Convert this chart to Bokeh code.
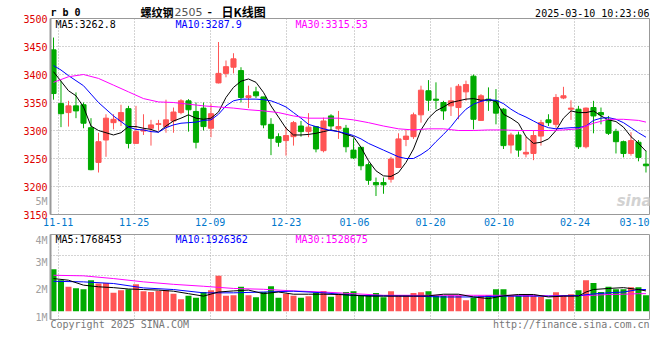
from bokeh.plotting import figure
from bokeh.layouts import column
from bokeh.models import FixedTicker, Range1d, Label, ColumnDataSource
from bokeh.embed import file_html
from bokeh.resources import INLINE

# ---------------- data ----------------
dates = ["11-08",
         "11-11", "11-12", "11-13", "11-14", "11-15", "11-18", "11-19", "11-20", "11-21", "11-22",
         "11-25", "11-26", "11-27", "11-28", "11-29",
         "12-02", "12-03", "12-04", "12-05", "12-06", "12-09", "12-10", "12-11", "12-12", "12-13",
         "12-16", "12-17", "12-18", "12-19", "12-20", "12-23", "12-24", "12-25", "12-26", "12-27",
         "12-30", "12-31",
         "01-02", "01-03", "01-06", "01-07", "01-08", "01-09", "01-10", "01-13", "01-14", "01-15",
         "01-16", "01-17", "01-20", "01-21", "01-22", "01-23", "01-24", "01-27",
         "02-05", "02-06", "02-07", "02-10", "02-11", "02-12", "02-13", "02-14", "02-17", "02-18",
         "02-19", "02-20", "02-21", "02-24", "02-25", "02-26", "02-27", "02-28",
         "03-03", "03-04", "03-05", "03-06", "03-07", "03-10"]

open_ = [3444, 3348, 3332, 3344, 3346, 3305, 3243, 3283, 3314, 3317,
         3339, 3277, 3299, 3304, 3311, 3307, 3317, 3332, 3353, 3334,
         3340, 3304, 3385, 3402, 3413, 3407, 3359, 3369, 3360, 3311,
         3289, 3282, 3289, 3308, 3298, 3307, 3264, 3326, 3303, 3304,
         3265, 3270, 3239, 3207, 3207, 3213, 3234, 3284, 3289, 3328,
         3371, 3356, 3350, 3344, 3341, 3369, 3397, 3318, 3356, 3353,
         3338, 3274, 3292, 3258, 3259, 3290, 3319, 3311, 3358, 3338,
         3338, 3271, 3341, 3332, 3320, 3298, 3280, 3259, 3279, 3240]
high = [3466, 3389, 3353, 3368, 3350, 3322, 3296, 3329, 3329, 3346,
        3344, 3344, 3329, 3319, 3319, 3355, 3341, 3356, 3356, 3350,
        3350, 3348, 3458, 3425, 3438, 3413, 3380, 3378, 3360, 3322,
        3295, 3306, 3317, 3317, 3331, 3308, 3323, 3329, 3335, 3310,
        3286, 3270, 3243, 3216, 3216, 3253, 3295, 3301, 3332, 3380,
        3390, 3386, 3353, 3377, 3383, 3389, 3400, 3365, 3377, 3374,
        3340, 3296, 3298, 3289, 3300, 3319, 3329, 3365, 3378, 3354,
        3344, 3341, 3353, 3341, 3326, 3303, 3282, 3297, 3283, 3264]
low = [3355, 3306, 3307, 3322, 3304, 3229, 3225, 3253, 3302, 3308,
       3268, 3277, 3292, 3273, 3300, 3296, 3296, 3329, 3298, 3268,
       3300, 3288, 3384, 3395, 3402, 3350, 3340, 3358, 3304, 3256,
       3271, 3255, 3273, 3289, 3288, 3261, 3261, 3301, 3285, 3261,
       3249, 3229, 3203, 3183, 3187, 3207, 3233, 3272, 3285, 3314,
       3335, 3338, 3319, 3326, 3320, 3353, 3302, 3317, 3335, 3311,
       3267, 3259, 3253, 3252, 3247, 3273, 3308, 3305, 3356, 3319,
       3267, 3268, 3295, 3311, 3292, 3259, 3252, 3255, 3245, 3225]
close = [3366, 3330, 3344, 3335, 3313, 3230, 3280, 3322, 3320, 3332,
         3277, 3298, 3301, 3310, 3312, 3319, 3333, 3353, 3337, 3279,
         3307, 3330, 3402, 3414, 3428, 3359, 3362, 3362, 3310, 3286,
         3279, 3291, 3314, 3298, 3306, 3267, 3317, 3308, 3307, 3271,
         3251, 3237, 3211, 3203, 3203, 3249, 3285, 3290, 3328, 3372,
         3354, 3354, 3335, 3353, 3379, 3382, 3320, 3362, 3353, 3331,
         3273, 3292, 3265, 3261, 3291, 3314, 3314, 3359, 3362, 3340,
         3271, 3340, 3326, 3328, 3295, 3280, 3259, 3282, 3252, 3237]

ma5 = [3405, 3388, 3371, 3362, 3342, 3308, 3300, 3296, 3292, 3296,
       3307, 3307, 3304, 3302, 3297, 3308, 3317, 3322, 3328, 3322,
       3320, 3322, 3333, 3359, 3377, 3388, 3392, 3386, 3368, 3344,
       3324, 3304, 3292, 3292, 3293, 3295, 3298, 3301, 3298, 3293,
       3289, 3270, 3246, 3228, 3219, 3218, 3225, 3243, 3267, 3301,
       3322, 3335, 3342, 3350, 3353, 3356, 3357, 3354, 3355, 3352,
       3329, 3322, 3313, 3289, 3277, 3279, 3285, 3300, 3322, 3335,
       3332, 3332, 3335, 3326, 3319, 3316, 3306, 3289, 3277, 3263]
ma10 = [3416, 3408, 3398, 3389, 3380, 3365, 3350, 3338, 3326, 3316,
        3306, 3302, 3301, 3298, 3297, 3305, 3310, 3313, 3314, 3315,
        3318, 3319, 3329, 3344, 3353, 3356, 3356, 3356, 3355, 3353,
        3348, 3342, 3332, 3322, 3311, 3307, 3303, 3300, 3298, 3295,
        3291, 3285, 3277, 3271, 3265, 3259, 3253, 3250, 3250, 3257,
        3266, 3280, 3293, 3307, 3324, 3338, 3347, 3352, 3355, 3354,
        3348, 3338, 3330, 3324, 3317, 3310, 3305, 3303, 3304, 3305,
        3305, 3308, 3318, 3322, 3323, 3320, 3314, 3305, 3296, 3288]
ma30_idx = list(range(0, 80, 2)) + [79]
ma30 = [3386, 3396, 3400, 3393, 3381, 3369, 3357, 3351, 3350, 3347,
        3344, 3342, 3340, 3337, 3335, 3332, 3326, 3322, 3322, 3322,
        3319, 3314, 3308, 3303, 3301, 3303, 3303, 3300, 3300, 3301,
        3301, 3300, 3300, 3300, 3301, 3303, 3313, 3320, 3320, 3318, 3315]

# volume, in the units of the panel's own axis (M)
vol = [2.74, 2.34, 2.10, 2.05, 2.01, 2.34, 2.22, 2.24, 1.88, 1.97,
       2.01, 2.19, 1.94, 1.91, 1.95, 1.97, 1.85, 1.65, 1.77, 1.70,
       1.91, 1.97, 2.50, 1.77, 1.79, 2.10, 1.79, 1.72, 1.91, 2.12,
       1.70, 1.85, 1.77, 1.70, 1.76, 1.88, 1.95, 1.74, 1.85, 1.91,
       1.94, 1.79, 1.79, 1.87, 1.72, 1.94, 1.79, 1.79, 1.87, 1.90,
       1.94, 1.77, 1.77, 1.79, 1.77, 1.61, 1.71, 1.77, 1.79, 2.01,
       2.01, 1.77, 1.77, 1.83, 1.77, 1.74, 1.65, 1.90, 1.79, 1.83,
       1.97, 2.34, 2.24, 1.91, 2.10, 2.01, 2.01, 2.08, 2.08, 1.79]
vol_base = 1.21
vma5_idx = [0, 2, 4, 6, 8, 10, 12, 14, 16, 18, 20, 22, 24, 26, 28, 30, 32, 34, 36, 38, 40,
            42, 44, 46, 48, 50, 52, 54, 56, 58, 60, 62, 64, 66, 68, 70, 71, 72, 74, 76, 78, 79]
vma5 = [2.40, 2.34, 2.16, 2.10, 2.07, 2.02, 2.00, 1.98, 1.94, 1.85, 1.76, 1.91, 1.95, 1.98,
        1.85, 1.91, 1.83, 1.83, 1.83, 1.82, 1.79, 1.76, 1.76, 1.76, 1.76, 1.77, 1.83, 1.83,
        1.73, 1.67, 1.77, 1.82, 1.82, 1.73, 1.76, 1.76, 1.91, 2.00, 2.04, 2.07, 2.00, 1.95]
vma_idx = [0, 4, 8, 12, 16, 20, 24, 28, 32, 36, 40, 44, 48, 52, 56, 60, 64, 66, 70, 72, 74, 76, 78, 79]
vma10 = [2.30, 2.28, 2.22, 2.06, 2.00, 1.88, 1.88, 1.91, 1.94, 1.88, 1.79, 1.77, 1.76, 1.73,
         1.73, 1.76, 1.76, 1.76, 1.78, 1.84, 1.88, 1.91, 2.00, 2.00]
vma30 = [2.52, 2.50, 2.40, 2.28, 2.19, 2.12, 2.04, 2.01, 1.95, 1.91, 1.85, 1.79, 1.79, 1.79,
         1.79, 1.79, 1.79, 1.77, 1.78, 1.79, 1.82, 1.83, 1.85, 1.85]

tick_dates = ["11-11", "11-25", "12-09", "12-23", "01-06", "01-20", "02-10", "02-24", "03-10"]
price_ticks = [3150, 3200, 3250, 3300, 3350, 3400, 3450, 3500]
price_grid = [3200, 3250, 3300, 3350, 3400, 3450]
vol_ticks = [1, 2, 3, 4]
vol_tick_labels = ["1M", "2M", "3M", "4M"]
vol_extra_label = "5M"
vol_grid = [2.5, 3.23]

title_symbol = "r b 0"
title_name = "螺纹钢"
title_code = "2505"
title_kind = "日K线图"
stamp = "2025-03-10 10:23:06"
price_legend = ["MA5:3262.8", "MA10:3287.9", "MA30:3315.53"]
vol_legend = ["MA5:1768453", "MA10:1926362", "MA30:1528675"]
legend_colors = ["#000000", "#0000FF", "#FF00FF"]
copyright_text = "Copyright 2025 SINA.COM"
url_text = "http://finance.sina.com.cn"

# ---------------- style / layout ----------------
MONO = "DejaVu Sans Mono"
CJK = "Noto Sans CJK SC"
UP, DOWN = "#FF5555", "#00AA00"
GRIDC = "#A8A8A8"
FRAMEC = "#999999"

W = 660
BL, BR = 50, 11
X0, X1 = -0.4, 79.47
FW = W - BL - BR
SX = FW / (X1 - X0)

H1, T1, B1 = 234, 18, 20
FH1 = H1 - T1 - B1
P_LO, P_HI = 3150, 3500

H2, T2, B2 = 106, 0, 21
FH2 = H2 - T2 - B2
V_LO, V_HI = 0.909, 4.005
HT = H1 + H2
EXTRA_LABEL_Y = 201   # page row of the stray "5M" label of the volume scale


def xd(px):
    return X0 + (px - BL) / SX


def y1(py):
    return P_HI - (py - T1) * (P_HI - P_LO) / FH1


def y2(py):
    return V_HI - (py - H1 - T2) * (V_HI - V_LO) / FH2


GRID_STEP = 7.6 / 7.5   # Sina's date grid runs slightly faster than its candle spacing
tick_idx = [dates.index(d) for d in tick_dates]
grid_x = [round(i * GRID_STEP - 0.39, 3) for i in tick_idx]
label_x = [min(g, round(X1 - 2.0, 3)) for g in grid_x]

n = len(dates)
xs = list(range(n))
src = ColumnDataSource(dict(
    x=xs, o=open_, h=high, l=low, c=close,
    top=[max(a, b) for a, b in zip(open_, close)],
    bot=[min(a, b) for a, b in zip(open_, close)],
    color=[UP if c > o else DOWN for o, c in zip(open_, close)],
    vol=vol,
))


def style_axes(p):
    for ax in (p.xaxis, p.yaxis):
        ax.major_tick_line_color = None
        ax.minor_tick_line_color = None
        ax.major_tick_out = 0
        ax.major_tick_in = 0
        ax.minor_tick_out = 0
        ax.major_label_text_font = MONO
        ax.major_label_text_font_size = "10px"
        ax.major_label_standoff = 3


def style_common(p):
    p.outline_line_color = FRAMEC
    p.outline_line_width = 1
    p.background_fill_color = "white"
    p.border_fill_color = "white"
    style_axes(p)
    p.yaxis.axis_line_color = FRAMEC
    p.yaxis.axis_line_width = 2
    p.xaxis.axis_line_color = None
    for g in (p.xgrid, p.ygrid):
        g.grid_line_color = GRIDC
        g.grid_line_dash = "1 2"
        g.grid_line_width = 1


def lab(p, x, y, text, **kw):
    base = dict(text_font=MONO, text_font_size="10px", text_color="#000000",
                text_align="left", text_baseline="middle")
    base.update(kw)
    p.add_layout(Label(x=x, y=y, text=text, **base))


# ---------------- main (price) panel ----------------
p1 = figure(width=W, height=H1, output_backend="svg", toolbar_location=None, title=None,
            x_range=Range1d(X0, X1), y_range=Range1d(P_LO, P_HI),
            min_border_left=BL, min_border_right=BR, min_border_top=T1, min_border_bottom=B1)
style_common(p1)
p1.yaxis.ticker = FixedTicker(ticks=price_ticks)
p1.yaxis.major_label_text_color = "#DD0000"
p1.ygrid.ticker = FixedTicker(ticks=price_grid)
p1.xaxis.ticker = FixedTicker(ticks=label_x)
p1.xaxis.major_label_overrides = {lx: d for lx, d in zip(label_x, tick_dates)}
p1.xaxis.major_label_text_color = "#0077CC"
p1.xgrid.ticker = FixedTicker(ticks=grid_x)

p1.segment(x0="x", y0="l", x1="x", y1="h", line_color="color", line_width=1, source=src)
p1.vbar(x="x", width=0.68, top="top", bottom="bot", fill_color="color", line_color="color",
        line_width=1, source=src)
p1.line(xs, ma5, line_color="#000000", line_width=1)
p1.line(xs, ma10, line_color="#0000FF", line_width=1)
p1.line(ma30_idx, ma30, line_color="#FF00FF", line_width=1)

for txt, col, px in zip(price_legend, legend_colors, (55, 175, 295)):
    lab(p1, xd(px), y1(23.5), txt, text_color=col)
lab(p1, xd(651), y1(200), "sina", text_font="DejaVu Sans", text_font_size="15px",
    text_font_style="bold italic", text_color="#D2D2D2", text_align="right")

# ---------------- volume panel ----------------
p2 = figure(width=W, height=H2, output_backend="svg", toolbar_location=None, title=None,
            x_range=p1.x_range, y_range=Range1d(V_LO, V_HI),
            min_border_left=BL, min_border_right=BR, min_border_top=T2, min_border_bottom=B2)
style_common(p2)
p2.yaxis.ticker = FixedTicker(ticks=vol_ticks)
p2.yaxis.major_label_overrides = {t: s for t, s in zip(vol_ticks, vol_tick_labels)}
p2.yaxis.major_label_text_color = "#A0A0A0"
p2.ygrid.ticker = FixedTicker(ticks=vol_grid)
p2.xaxis.ticker = FixedTicker(ticks=grid_x)
p2.xgrid.ticker = FixedTicker(ticks=grid_x)
p2.xaxis.major_label_text_font_size = "0px"
p2.xaxis.major_label_text_color = None

p2.vbar(x="x", width=0.8, top="vol", bottom=vol_base, fill_color="color", line_color=None,
        source=src)
p2.line(vma_idx, vma30, line_color="#FF00FF", line_width=1)
p2.line(vma_idx, vma10, line_color="#0000FF", line_width=1)
p2.line(vma5_idx, vma5, line_color="#000000", line_width=1)

for txt, col, px in zip(vol_legend, legend_colors, (55, 175, 295)):
    lab(p2, xd(px), y2(238.5), txt, text_color=col)

# ---------------- transparent text layer laid over both panels ----------------
# its frame is aligned with the panels' frames (x: page pixels BL..W-BR, y: page pixels)
p0 = figure(width=W, height=HT, output_backend="svg", toolbar_location=None, title=None,
            x_range=Range1d(BL, W - BR), y_range=Range1d(HT, 0),
            x_axis_location=None, y_axis_location="left",
            min_border_left=BL, min_border_right=BR, min_border_top=0, min_border_bottom=0)
p0.outline_line_color = None
p0.background_fill_color = None
p0.border_fill_color = None
p0.grid.visible = False
style_axes(p0)
p0.yaxis.axis_line_color = None
p0.yaxis.ticker = FixedTicker(ticks=[EXTRA_LABEL_Y])
p0.yaxis.major_label_overrides = {EXTRA_LABEL_Y: vol_extra_label}
p0.yaxis.major_label_text_color = "#A0A0A0"
p0.margin = (-HT, 0, 0, 0)

lab(p0, 50, 12, title_symbol, text_font_style="bold")
lab(p0, 140, 11, title_name, text_font=CJK, text_font_size="11px", text_font_style="bold")
lab(p0, 174, 11.5, title_code, text_font="DejaVu Sans", text_font_size="11px",
    text_color="#555555")
lab(p0, 207, 11, "-", text_font=CJK, text_font_size="12px", text_font_style="bold")
lab(p0, 221, 11, title_kind, text_font=CJK, text_font_size="12px", text_font_style="bold")
lab(p0, 649, 12.5, stamp, text_align="right")
lab(p0, 50, 323.5, copyright_text, text_color="#777777")
lab(p0, 649, 323.5, url_text, text_color="#777777", text_align="right")

layout = column(p1, p2, p0, spacing=0)

open("out.html", "w").write(file_html(layout, INLINE))
